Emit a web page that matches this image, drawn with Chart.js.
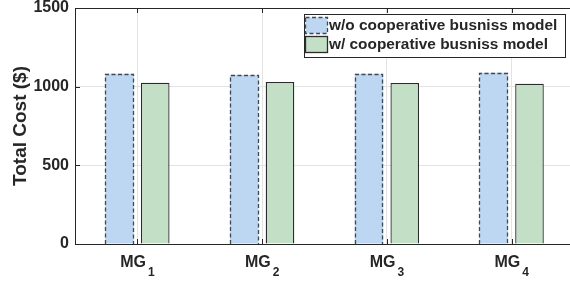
<!DOCTYPE html>
<html>
<head>
<meta charset="utf-8">
<script src="https://cdn.jsdelivr.net/npm/chart.js@4/dist/chart.umd.min.js"></script>
<style>
  html, body { margin: 0; padding: 0; background: #fff; overflow: hidden; }
  #wrap { width: 574px; height: 282px; }
</style>
</head>
<body>
<div id="wrap"><canvas id="c"></canvas></div>
<script>
const groups = ['MG', 'MG', 'MG', 'MG'];
const groupSubs = ['1', '2', '3', '4'];
const withoutCoop = [1082, 1074, 1082, 1089];
const withCoop = [1025, 1030, 1023, 1019];
const yTicks = [0, 500, 1000, 1500];
const seriesNames = ['w/o cooperative busniss model', 'w/ cooperative busniss model'];

const FONT = "'Liberation Sans', Arial, sans-serif";
const INK = '#262626';
const BLUE = '#bdd7f3';
const GREEN = '#c3e0c7';

const decor = {
  id: 'decor',
  afterDatasetsDraw(chart) {
    const ctx = chart.ctx;
    // dashed outline for the first series
    const meta = chart.getDatasetMeta(0);
    ctx.save();
    ctx.strokeStyle = '#3f4953';
    ctx.lineWidth = 1.3;
    ctx.setLineDash([4, 2.5]);
    meta.data.forEach(bar => {
      const p = bar.getProps(['x', 'y', 'base', 'width'], true);
      const l = Math.round(p.x - p.width / 2) + 0.5;
      const r = Math.round(p.x + p.width / 2) - 0.5;
      const t = Math.round(p.y) + 0.5;
      const b = Math.round(p.base);
      ctx.beginPath();
      ctx.moveTo(l, b);
      ctx.lineTo(l, t);
      ctx.lineTo(r, t);
      ctx.lineTo(r, b);
      ctx.stroke();
    });
    ctx.restore();
  },
  afterDraw(chart) {
    const ctx = chart.ctx;
    const a = chart.chartArea;
    const xs = chart.scales.x;
    const ys = chart.scales.y;
    ctx.save();
    // top box line and inward ticks
    ctx.strokeStyle = INK;
    ctx.lineWidth = 1;
    ctx.beginPath();
    ctx.moveTo(a.left, a.top + 0.5);
    ctx.lineTo(a.right, a.top + 0.5);
    groups.forEach((g, i) => {
      const x = Math.round(xs.getPixelForValue(i)) + 0.5;
      ctx.moveTo(x, a.bottom);
      ctx.lineTo(x, a.bottom - 5);
      ctx.moveTo(x, a.top);
      ctx.lineTo(x, a.top + 5);
    });
    yTicks.forEach(v => {
      const y = Math.round(ys.getPixelForValue(v)) + 0.5;
      ctx.moveTo(a.left, y);
      ctx.lineTo(a.left + 5, y);
    });
    ctx.stroke();

    // category labels with subscripts
    ctx.fillStyle = INK;
    ctx.textBaseline = 'alphabetic';
    ctx.textAlign = 'left';
    groups.forEach((g, i) => {
      const cx = xs.getPixelForValue(i);
      ctx.font = 'bold 16px ' + FONT;
      const w1 = ctx.measureText(g).width;
      ctx.font = 'bold 12px ' + FONT;
      const w2 = ctx.measureText(groupSubs[i]).width;
      const x0 = cx - (w1 + 2 + w2) / 2;
      ctx.font = 'bold 16px ' + FONT;
      ctx.fillText(g, x0, 267);
      ctx.font = 'bold 12px ' + FONT;
      ctx.fillText(groupSubs[i], x0 + w1 + 2, 276);
    });

    // legend box
    const bx = 304.5, by = 14.5, bw = 261, bh = 43;
    ctx.fillStyle = '#fff';
    ctx.fillRect(bx, by, bw, bh);
    ctx.strokeStyle = INK;
    ctx.lineWidth = 1;
    ctx.strokeRect(bx, by, bw, bh);
    const rows = [17, 36];
    // swatch 1 (dashed)
    ctx.fillStyle = BLUE;
    ctx.fillRect(305.5, rows[0] + 0.5, 22, 16);
    ctx.strokeStyle = '#3f4953';
    ctx.lineWidth = 1.3;
    ctx.setLineDash([4, 2.5]);
    ctx.strokeRect(305.5, rows[0] + 0.5, 22, 16);
    ctx.setLineDash([]);
    // swatch 2
    ctx.fillStyle = GREEN;
    ctx.fillRect(305.5, rows[1] + 0.5, 22, 16);
    ctx.strokeStyle = '#2b2b2b';
    ctx.lineWidth = 1.3;
    ctx.strokeRect(305.5, rows[1] + 0.5, 22, 16);
    ctx.fillStyle = INK;
    ctx.font = 'bold 15.4px ' + FONT;
    ctx.textBaseline = 'middle';
    seriesNames.forEach((s, i) => ctx.fillText(s, 329, rows[i] + 9));
    ctx.restore();
  }
};

new Chart(document.getElementById('c'), {
  type: 'bar',
  data: {
    labels: groups.map((g, i) => g + groupSubs[i]),
    datasets: [
      {
        label: seriesNames[0],
        data: withoutCoop,
        backgroundColor: BLUE,
        borderWidth: 0,
        categoryPercentage: 0.573,
        barPercentage: 0.8,
      },
      {
        label: seriesNames[1],
        data: withCoop,
        backgroundColor: GREEN,
        borderColor: '#2b2b2b',
        borderWidth: 1.3,
        categoryPercentage: 0.573,
        barPercentage: 0.8,
      },
    ],
  },
  options: {
    responsive: true,
    maintainAspectRatio: false,
    animation: false,
    layout: { padding: { top: 8, left: 0, right: 0, bottom: 0 } },
    plugins: { legend: { display: false }, tooltip: { enabled: false } },
    scales: {
      x: {
        offset: true,
        grid: { offset: false, color: '#e3e3e3', drawTicks: false },
        border: { color: INK, width: 1 },
        ticks: { display: false },
        afterFit: s => { s.height = 38; },
      },
      y: {
        min: 0,
        max: 1500,
        afterBuildTicks: s => { s.ticks = yTicks.map(v => ({ value: v })); },
        grid: { color: '#e3e3e3', drawTicks: false },
        border: { color: INK, width: 1 },
        ticks: {
          color: INK,
          padding: 6,
          font: { family: FONT, size: 16, weight: 'bold' },
          callback: v => String(v),
        },
        title: {
          display: true,
          text: 'Total Cost ($)',
          color: INK,
          padding: { top: 9, bottom: 0 },
          font: { family: FONT, size: 19, weight: 'bold' },
        },
        afterFit: s => { s.width = 75; s.paddingTop = 0; s.paddingBottom = 0; },
      },
    },
  },
  plugins: [decor],
});
</script>
</body>
</html>
